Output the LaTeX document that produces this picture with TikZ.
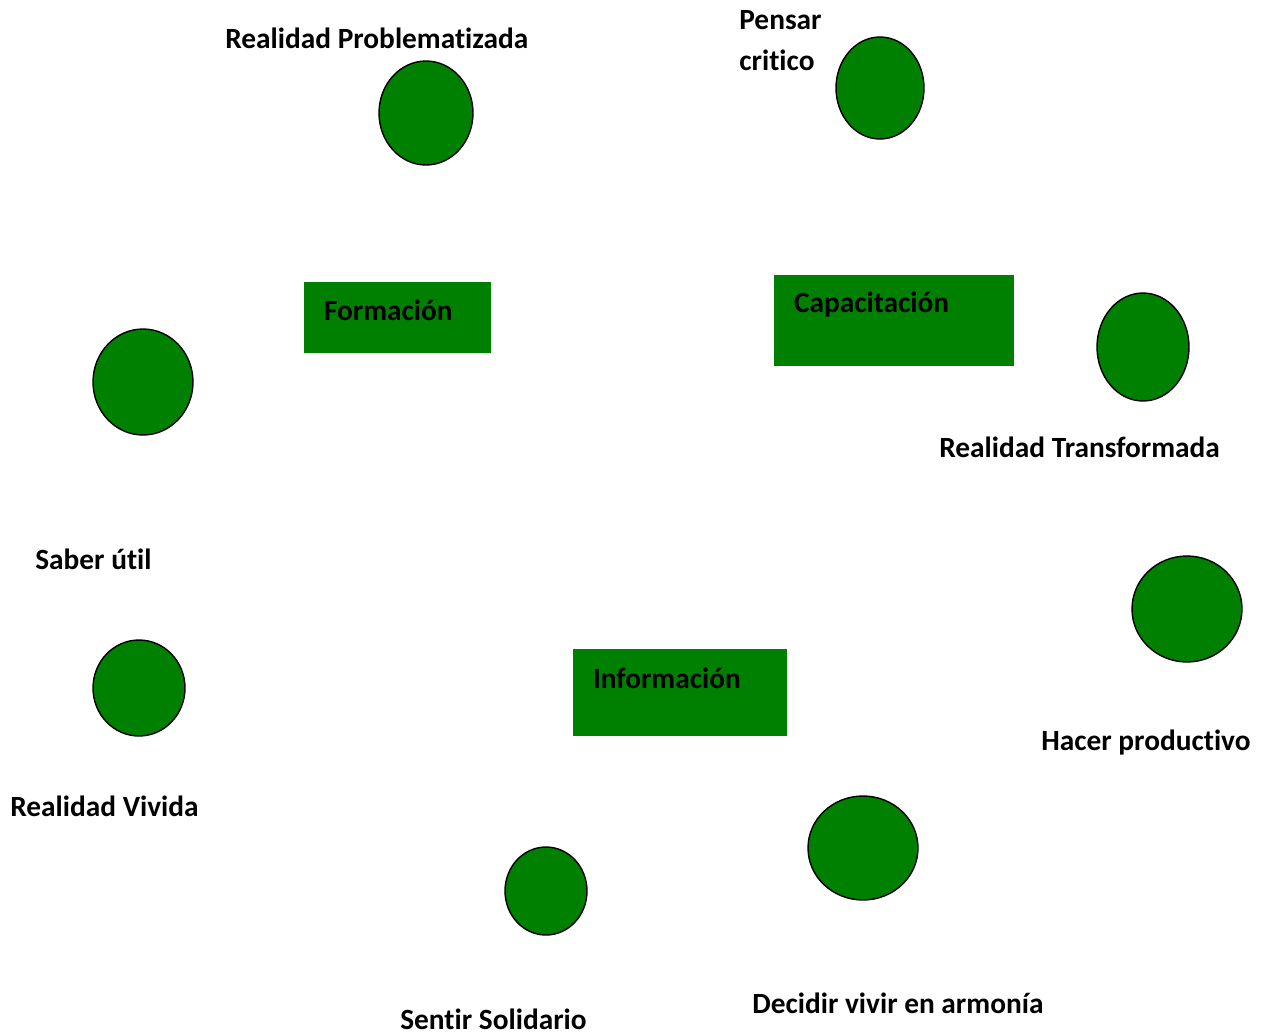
\documentclass[tikz,border=0pt]{standalone}
\usepackage{fontspec}
\setmainfont[Ligatures=NoCommon]{Carlito}
\usetikzlibrary{shapes.geometric}
\definecolor{verde}{HTML}{008000}
\tikzset{
  circulo/.style={ellipse,draw=black,thick,fill=verde,inner sep=0pt},
  caja/.style={rectangle,fill=verde,inner sep=0pt},
  etiqueta/.style={font=\fontsize{16.7}{23.2}\selectfont\bfseries,inner sep=0pt,anchor=west,align=left},
  titulo/.style={etiqueta,anchor=west,xshift=0.4cm,yshift=-0.57cm},
}

\begin{document}
\begin{tikzpicture}[x=0.02cm,y=-0.02cm]
  \useasboundingbox (0,0) rectangle (1265,1032);
  % circulos
  \node[circulo,minimum width=1.88cm,minimum height=2.08cm] (rp) at (426,113) {};
  \node[circulo,minimum width=1.76cm,minimum height=2.04cm] (pc) at (880,88) {};
  \node[circulo,minimum width=1.84cm,minimum height=2.16cm] (rt) at (1143,347) {};
  \node[circulo,minimum width=2.0cm,minimum height=2.12cm] (su) at (143,382) {};
  \node[circulo,minimum width=2.2cm,minimum height=2.12cm] (hp) at (1187,609) {};
  \node[circulo,minimum width=1.84cm,minimum height=1.92cm] (rv) at (139,688) {};
  \node[circulo,minimum width=2.2cm,minimum height=2.08cm] (dv) at (863,848) {};
  \node[circulo,minimum width=1.64cm,minimum height=1.76cm] (ss) at (546,891) {};
  % cajas
  \node[caja,minimum width=3.74cm,minimum height=1.42cm,
        label={[titulo]north west:Formación}] (form) at (397.5,317.5) {};
  \node[caja,minimum width=4.8cm,minimum height=1.82cm,
        label={[titulo,yshift=-0.02cm]north west:Capacitación}] (capa) at (894,320.5) {};
  \node[caja,minimum width=4.28cm,minimum height=1.74cm,
        label={[titulo,yshift=-0.02cm]north west:Información}] (info) at (680,692.5) {};
  % etiquetas
  \node[etiqueta] (lrp) at (225,38) {Realidad Problematizada};
  \node[etiqueta] (lpc) at (739,40.5) {Pensar\\critico};
  \node[etiqueta] (lrt) at (939,447) {Realidad Transformada};
  \node[etiqueta] (lsu) at (35,559) {Saber útil};
  \node[etiqueta] (lhp) at (1041,743) {Hacer productivo};
  \node[etiqueta] (lrv) at (10,806) {Realidad Vivida};
  \node[etiqueta] (ldv) at (752,1003) {Decidir vivir en armonía};
  \node[etiqueta] (lss) at (400,1019) {Sentir Solidario};
\end{tikzpicture}
\end{document}
